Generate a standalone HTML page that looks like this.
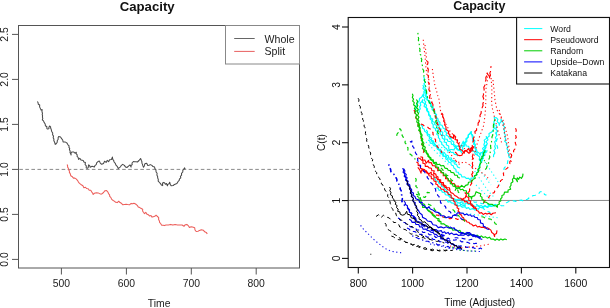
<!DOCTYPE html>
<html><head><meta charset="utf-8"><style>
html,body{margin:0;padding:0;background:#fff;width:610px;height:308px;overflow:hidden}
svg{display:block;filter:blur(0.3px)}
text{font-family:"Liberation Sans", sans-serif}
</style></head><body>
<svg width="610" height="308" viewBox="0 0 610 308">
<rect width="610" height="308" fill="#fff"/>
<rect x="18.5" y="25.5" width="281" height="242.5" fill="none" stroke="#555" stroke-width="1"/>
<line x1="12" y1="259.4" x2="18.5" y2="259.4" stroke="#555" stroke-width="1"/>
<text x="7.8" y="259.4" transform="rotate(-90 7.8 259.4)" text-anchor="middle"  font-size="10.4" fill="#222">0.0</text>
<line x1="12" y1="214.4" x2="18.5" y2="214.4" stroke="#555" stroke-width="1"/>
<text x="7.8" y="214.4" transform="rotate(-90 7.8 214.4)" text-anchor="middle"  font-size="10.4" fill="#222">0.5</text>
<line x1="12" y1="169.4" x2="18.5" y2="169.4" stroke="#555" stroke-width="1"/>
<text x="7.8" y="169.4" transform="rotate(-90 7.8 169.4)" text-anchor="middle"  font-size="10.4" fill="#222">1.0</text>
<line x1="12" y1="124.4" x2="18.5" y2="124.4" stroke="#555" stroke-width="1"/>
<text x="7.8" y="124.4" transform="rotate(-90 7.8 124.4)" text-anchor="middle"  font-size="10.4" fill="#222">1.5</text>
<line x1="12" y1="79.4" x2="18.5" y2="79.4" stroke="#555" stroke-width="1"/>
<text x="7.8" y="79.4" transform="rotate(-90 7.8 79.4)" text-anchor="middle"  font-size="10.4" fill="#222">2.0</text>
<line x1="12" y1="34.4" x2="18.5" y2="34.4" stroke="#555" stroke-width="1"/>
<text x="7.8" y="34.4" transform="rotate(-90 7.8 34.4)" text-anchor="middle"  font-size="10.4" fill="#222">2.5</text>
<line x1="61.4" y1="268" x2="61.4" y2="274.5" stroke="#555" stroke-width="1"/>
<text x="61.4" y="286.8" text-anchor="middle"  font-size="10.4" fill="#222">500</text>
<line x1="126.4" y1="268" x2="126.4" y2="274.5" stroke="#555" stroke-width="1"/>
<text x="126.4" y="286.8" text-anchor="middle"  font-size="10.4" fill="#222">600</text>
<line x1="191.3" y1="268" x2="191.3" y2="274.5" stroke="#555" stroke-width="1"/>
<text x="191.3" y="286.8" text-anchor="middle"  font-size="10.4" fill="#222">700</text>
<line x1="256.2" y1="268" x2="256.2" y2="274.5" stroke="#555" stroke-width="1"/>
<text x="256.2" y="286.8" text-anchor="middle"  font-size="10.4" fill="#222">800</text>
<text x="159.2" y="306.8" text-anchor="middle"  font-size="10.4" fill="#222">Time</text>
<text x="147.2" y="10.8" text-anchor="middle"  font-size="13.2" font-weight="bold" fill="#111">Capacity</text>
<line x1="18.5" y1="169.4" x2="299.5" y2="169.4" stroke="#8a8a8a" stroke-width="1" stroke-dasharray="3.6 2.45" stroke-dashoffset="-0.8"/>
<path d="M37.4,101.5 L38.1,102.7 L38.3,104.2 L39.7,105.0 L39.6,106.9 L40.3,108.4 L41.1,110.1 L42.1,109.5 L42.0,111.9 L42.5,113.2 L42.2,114.5 L42.6,115.8 L42.4,117.1 L42.8,118.4 L42.3,119.9 L43.5,120.9 L44.1,122.4 L45.2,124.0 L45.4,125.7 L46.9,126.7 L46.8,128.2 L47.3,129.0 L48.9,128.8 L48.9,127.2 L49.6,126.0 L50.6,126.8 L50.6,128.1 L51.2,129.3 L51.7,131.5 L52.7,133.0 L52.6,134.8 L53.5,136.1 L53.2,137.7 L53.9,139.1 L53.8,140.6 L54.7,142.4 L55.2,144.4 L56.2,143.7 L57.2,142.3 L57.3,140.5 L58.2,139.3 L58.1,137.7 L58.7,136.6 L60.6,137.0 L61.6,138.7 L62.7,140.0 L63.1,141.9 L64.2,141.9 L65.0,141.9 L66.8,142.9 L68.0,144.8 L69.1,145.8 L68.9,147.2 L69.7,148.4 L69.4,149.8 L70.2,151.0 L70.0,152.4 L70.6,153.6 L71.1,155.0 L71.0,153.1 L71.7,151.9 L73.6,151.9 L75.0,153.1 L76.3,152.2 L76.1,153.7 L77.2,154.8 L77.1,156.3 L78.2,157.5 L78.5,159.4 L79.8,158.3 L81.1,160.1 L83.2,160.6 L83.9,161.9 L85.4,162.6 L85.1,164.5 L86.3,165.9 L86.2,167.9 L87.4,168.3 L88.3,167.3 L88.4,165.9 L88.7,164.8 L89.7,165.8 L90.2,167.2 L92.1,166.3 L94.4,167.0 L94.9,165.6 L96.2,164.6 L96.8,162.7 L98.0,161.6 L99.4,161.1 L100.4,163.4 L101.7,164.3 L103.5,163.5 L104.6,161.2 L106.1,162.4 L107.2,160.4 L108.6,161.7 L109.6,159.7 L111.4,159.5 L112.4,157.1 L112.8,159.4 L113.7,160.5 L114.1,162.0 L115.3,163.4 L116.0,165.2 L117.4,166.6 L118.2,168.6 L119.3,167.6 L120.5,166.9 L121.1,165.6 L122.7,164.4 L124.4,165.4 L125.6,167.1 L126.9,167.5 L128.5,166.1 L130.0,164.9 L131.1,167.1 L131.0,165.7 L132.2,164.6 L132.0,163.0 L133.4,161.5 L134.8,161.7 L136.1,161.8 L137.4,162.0 L139.0,160.5 L140.6,158.5 L141.3,160.3 L141.9,161.7 L141.9,163.1 L142.5,164.4 L142.9,165.9 L143.5,167.3 L144.3,166.0 L144.6,164.5 L145.3,163.4 L146.7,163.3 L147.8,165.5 L149.0,165.3 L150.4,164.6 L151.9,165.4 L153.0,166.6 L154.6,167.0 L154.8,168.5 L155.9,169.7 L156.1,172.0 L157.1,173.3 L156.9,175.0 L157.6,176.4 L157.7,178.0 L158.3,179.4 L158.2,181.1 L159.5,182.5 L160.3,183.4 L161.4,185.0 L162.7,185.6 L162.5,183.8 L163.1,182.4 L164.5,182.7 L165.4,184.3 L166.5,183.5 L167.4,185.8 L167.9,184.4 L169.1,183.6 L169.7,182.2 L170.3,184.7 L171.3,185.8 L173.2,185.5 L174.5,184.4 L176.9,183.6 L178.1,181.5 L179.2,180.4 L179.5,178.9 L180.8,177.8 L180.4,176.3 L181.6,175.2 L181.5,173.4 L182.8,172.0 L182.8,170.4 L183.7,169.2 L184.6,167.9 L185.1,169.3" fill="none" stroke="#4a4a4a" stroke-width="1.05" stroke-linejoin="round"/>
<path d="M67.1,164.5 L67.6,165.7 L67.6,167.1 L68.4,168.3 L68.5,169.7 L69.4,170.9 L69.4,172.4 L70.2,173.6 L70.8,175.8 L72.4,176.8 L73.5,178.1 L74.9,178.1 L76.1,178.9 L77.7,180.6 L78.5,182.3 L80.2,183.9 L81.3,184.8 L82.9,185.8 L83.9,187.7 L85.5,187.2 L86.5,188.5 L88.2,188.8 L89.2,190.2 L90.8,190.2 L91.6,191.9 L92.6,193.0 L93.2,194.5 L94.3,193.3 L96.4,192.7 L98.2,192.9 L100.1,193.9 L101.6,194.1 L103.5,192.5 L105.0,190.7 L106.6,190.5 L108.1,192.3 L108.5,193.7 L109.6,194.8 L109.7,196.3 L110.8,197.4 L111.7,199.4 L113.2,200.5 L114.3,201.1 L115.7,202.3 L117.3,202.6 L118.7,201.2 L119.7,202.3 L121.3,203.2 L122.8,204.8 L124.5,204.4 L126.1,204.2 L127.6,204.5 L129.5,204.8 L131.1,203.4 L132.7,203.8 L133.9,203.3 L135.6,204.0 L137.2,205.3 L138.2,206.9 L139.7,207.6 L140.8,208.2 L142.7,209.2 L142.6,211.0 L143.4,212.2 L144.5,213.6 L145.8,212.3 L146.7,214.0 L148.3,214.7 L149.4,215.9 L151.0,215.6 L152.1,217.1 L153.3,216.7 L154.8,216.3 L156.1,215.2 L156.9,216.0 L158.7,217.6 L158.6,219.4 L159.4,220.9 L159.6,222.4 L160.6,223.5 L161.7,225.3 L163.1,225.3 L164.4,225.6 L166.0,225.0 L166.6,224.9 L168.4,224.9 L170.6,224.4 L172.9,225.1 L175.1,224.6 L177.5,224.9 L179.7,225.0 L182.1,225.0 L184.0,226.3 L185.3,224.7 L186.9,224.4 L188.4,225.8 L189.4,227.5 L191.1,226.8 L192.5,227.1 L194.7,227.8 L195.0,230.0 L196.2,231.5 L198.0,231.2 L199.6,230.4 L201.3,229.7 L203.3,230.2 L204.7,231.8 L206.2,232.4 L207.3,233.9" fill="none" stroke="#EC5E5A" stroke-width="1.05" stroke-linejoin="round"/>
<rect x="225.5" y="25.5" width="74" height="38.5" fill="#fff" stroke="#888" stroke-width="1"/>
<line x1="234.2" y1="38.5" x2="254.7" y2="38.5" stroke="#666" stroke-width="1"/>
<line x1="234.2" y1="51.4" x2="254.7" y2="51.4" stroke="#E86060" stroke-width="1"/>
<text x="264.5" y="43"  font-size="10.6" fill="#222">Whole</text>
<text x="264.5" y="55.3"  font-size="10.6" fill="#222">Split</text>
<line x1="348.2" y1="200.45" x2="609.5" y2="200.45" stroke="#888" stroke-width="1"/>
<path d="M496.0,124.6 L496.6,126.7 L495.7,129.0 L497.6,131.2 L496.1,133.2 L496.9,135.5 L495.4,137.5 L496.4,139.9 L494.6,141.8 L495.5,144.1 L494.7,146.2 L495.5,148.5 L493.9,150.5 L494.9,152.9 L493.6,154.9 L493.5,157.1" fill="none" stroke="#00FFFF" stroke-width="1.15" stroke-linejoin="round"/>
<path d="M486.2,136.0 L486.6,138.4 L484.2,140.1 L484.8,142.5 L483.9,144.5 L484.7,146.7 L482.6,148.4 L483.7,150.8 L482.0,152.7 L482.6,155.1 L481.4,157.1" fill="none" stroke="#00FFFF" stroke-width="1.15" stroke-linejoin="round"/>
<path d="M470.0,165.0 L474.0,170.0 L478.0,176.0 L482.0,182.0 L486.0,188.0 L490.0,193.0 L494.0,197.0" fill="none" stroke="#00FFFF" stroke-width="1.1" stroke-dasharray="1.2 2.6" stroke-opacity="0.95" stroke-linejoin="round"/>
<path d="M485.0,162.0 L489.0,168.0 L493.0,174.0 L497.0,180.0 L500.0,186.0" fill="none" stroke="#00FFFF" stroke-width="1.1" stroke-dasharray="1.2 2.6" stroke-opacity="0.95" stroke-linejoin="round"/>
<path d="M476.0,185.0 L481.0,190.0 L486.0,195.0 L490.0,199.0" fill="none" stroke="#00FFFF" stroke-width="1.1" stroke-dasharray="1.2 2.6" stroke-opacity="0.95" stroke-linejoin="round"/>
<path d="M445.0,200.0 L447.0,199.9 L448.0,202.1 L450.2,201.5 L451.5,203.0 L453.4,203.1 L454.7,204.7 L456.9,204.1 L458.0,206.1 L460.1,205.5 L462.3,207.3 L465.2,206.6 L466.4,208.4 L468.6,207.6 L469.9,209.5 L472.6,208.6 L475.2,210.2 L476.6,208.7 L478.5,209.1 L479.8,207.2 L482.6,207.9 L484.9,206.2 L487.6,207.5 L489.7,205.7 L491.8,206.4 L493.3,205.2 L495.0,205.0" fill="none" stroke="#00FFFF" stroke-width="1.15" stroke-linejoin="round"/>
<path d="M455.0,212.0 L462.0,213.0 L470.0,214.0 L478.0,215.0 L485.0,216.0 L492.0,217.0 L500.0,218.0" fill="none" stroke="#00FFFF" stroke-width="1.1" stroke-dasharray="1.2 2.6" stroke-opacity="0.95" stroke-linejoin="round"/>
<path d="M462.0,206.0 L463.9,205.3 L466.1,205.6 L468.0,204.3 L469.9,204.5 L472.0,204.1 L474.0,204.7 L476.1,204.2 L477.9,205.2 L479.8,205.6 L481.0,207.3 L483.0,207.7 L484.2,209.3 L486.1,209.8 L487.2,211.4 L489.1,211.9 L490.4,213.2 L492.0,214.0" fill="none" stroke="#00FFFF" stroke-width="1.15" stroke-dasharray="3.9 3.4" stroke-linejoin="round"/>
<path d="M426.0,142.0 L430.0,146.0 L434.0,150.0 L438.0,154.0 L442.0,158.0 L446.0,162.0 L450.0,166.0" fill="none" stroke="#00FFFF" stroke-width="1.1" stroke-dasharray="1.2 2.6" stroke-opacity="0.95" stroke-linejoin="round"/>
<path d="M428.0,140.0 L429.8,140.9 L430.3,143.1 L432.4,143.5 L433.8,145.8 L436.5,146.3 L437.5,149.2 L440.4,149.4 L441.8,151.8 L444.4,152.5 L445.7,154.9 L448.3,155.7 L448.7,158.0 L451.4,158.0 L451.9,160.2 L454.5,160.8 L456.0,163.0" fill="none" stroke="#00FFFF" stroke-width="1.15" stroke-linejoin="round"/>
<path d="M432.0,141.0 L437.0,143.0 L441.0,147.0 L445.0,150.0 L449.0,153.0" fill="none" stroke="#00FFFF" stroke-width="1.1" stroke-dasharray="1.2 2.6" stroke-opacity="0.95" stroke-linejoin="round"/>
<path d="M415.0,111.0 L414.9,109.2 L416.7,108.0 L415.8,105.9 L417.3,104.6 L417.8,102.5 L419.3,100.8 L419.5,98.5 L421.5,97.2 L423.5,93.8 L423.4,96.9 L425.2,98.3 L424.3,100.3 L425.7,101.8 L425.3,103.8 L426.6,105.3 L425.8,107.4 L427.6,109.0 L427.2,111.3 L428.9,112.9 L428.6,115.1 L430.4,116.7 L430.1,119.0 L432.1,120.5 L431.7,122.8 L433.2,124.7 L433.2,127.4 L435.4,128.5 L435.6,130.6 L437.6,131.8 L436.7,134.3 L438.5,135.6 L438.4,137.7 L439.8,139.1 L439.8,141.2 L441.7,142.3 L441.8,144.5 L443.5,145.4 L444.5,147.5 L446.5,148.4 L447.6,150.7 L449.9,150.6 L451.1,152.5 L453.3,152.4 L454.4,154.5 L456.6,154.6 L458.0,156.0" fill="none" stroke="#00FFFF" stroke-width="1.15" stroke-linejoin="round"/>
<path d="M422.8,85.0 L423.6,86.6 L422.9,88.6 L424.8,90.0 L423.7,92.1 L425.3,93.6 L425.1,95.6 L426.6,97.2 L427.0,99.5 L429.9,101.4 L430.9,104.6 L433.1,106.8 L433.2,109.2 L434.9,110.9 L434.6,113.1 L436.6,114.5 L436.1,117.2 L437.9,118.7 L438.3,120.9 L440.0,122.5 L439.8,124.8 L442.0,125.3 L443.3,128.3 L445.5,129.3 L444.7,131.5 L446.9,132.5 L446.0,135.0 L448.3,136.2 L449.9,139.0 L451.1,136.8 L451.2,140.1 L453.8,142.0 L453.6,144.3 L455.4,145.5 L455.4,147.9 L457.4,148.5 L458.2,150.3 L460.3,150.8 L461.8,153.0 L460.7,150.6 L463.0,149.5 L462.3,147.2 L464.6,145.9 L464.6,143.5 L466.9,141.3 L466.7,138.8 L468.4,137.2 L468.4,135.0 L469.8,133.6 L471.1,131.7 L471.5,134.7 L473.3,136.2 L472.8,138.6 L474.9,141.0 L474.3,143.0 L475.5,144.9 L474.9,146.9 L475.9,148.8 L475.4,151.0 L477.0,152.6 L477.1,155.0 L479.9,157.0 L479.2,159.4 L479.8,160.7 L482.5,160.2 L482.0,157.9 L483.2,156.1 L483.4,153.2 L485.5,151.7 L484.5,149.3 L486.0,147.6 L485.7,145.5 L487.4,143.8 L486.0,141.6 L488.0,139.9 L487.2,137.6 L489.2,136.2 L489.0,133.6 L491.8,131.9 L493.0,130.0 L494.5,128.1 L493.0,126.0 L494.6,124.2 L493.7,122.1 L494.9,120.2 L494.2,117.6 L496.3,117.7 L497.9,119.3 L497.1,121.6 L498.9,123.2 L499.3,125.5 L499.6,123.3 L501.1,121.6 L501.0,119.3 L502.4,121.5 L503.5,123.3 L503.1,125.4 L504.7,127.2 L503.6,129.3 L504.7,131.1 L504.2,133.2 L505.4,135.0 L504.9,137.1 L505.7,139.0 L504.7,141.3 L506.5,142.9 L506.3,145.0 L507.6,146.7 L507.0,148.8 L508.3,150.6 L507.7,152.7 L509.0,154.3 L508.8,156.8 L510.6,158.4" fill="none" stroke="#00FFFF" stroke-width="1.15" stroke-linejoin="round"/>
<path d="M423.6,76.7 L424.4,78.3 L423.8,80.1 L425.5,81.9 L423.9,83.9 L425.4,85.8 L424.8,87.8 L426.1,89.5 L425.1,91.8 L426.7,93.5 L426.0,95.8 L427.7,97.4 L427.0,99.9 L428.8,101.0 L429.0,102.9 L431.0,103.9 L430.5,106.2 L432.2,107.4 L432.1,109.8 L434.5,110.8 L434.7,113.1 L436.1,114.8 L435.3,117.1 L436.9,118.8 L436.4,121.0 L437.9,122.7 L437.8,124.6 L439.1,126.0 L439.2,127.8 L441.1,128.9 L440.6,131.3 L442.8,132.3 L442.3,134.8 L444.7,136.1 L444.8,139.0 L447.2,139.2 L447.9,141.3 L451.1,141.8 L451.4,144.1 L453.4,144.7 L454.3,146.4 L456.4,146.9 L456.7,149.2 L458.1,149.9 L460.2,148.4 L460.9,145.6 L463.5,146.1 L464.2,142.7 L466.0,141.2 L465.9,138.7 L467.9,137.3 L468.2,135.0 L469.8,133.7 L471.3,131.7 L471.0,133.7 L472.5,135.0 L472.1,137.0 L473.3,138.5 L472.5,140.6 L474.2,142.0 L473.5,144.0 L475.1,145.4 L474.7,148.0 L476.5,149.6 L477.1,151.8 L479.1,153.0 L480.3,155.2 L480.6,152.8 L483.4,152.3 L483.8,149.9 L485.3,148.5 L485.3,146.3 L487.0,145.0" fill="none" stroke="#00FFFF" stroke-width="1.15" stroke-linejoin="round"/>
<path d="M419.6,112.5 L418.9,110.5 L420.3,108.8 L419.5,106.8 L420.8,105.1 L420.1,103.0 L421.7,101.7 L422.8,99.6 L422.3,102.3 L424.8,103.6 L424.1,106.4 L426.4,107.8 L426.6,110.2 L428.7,111.7 L428.6,114.2 L430.4,115.8 L430.7,117.9 L432.8,118.9 L432.2,121.5 L434.7,122.2 L434.7,124.5 L436.8,125.5 L436.4,128.0 L438.3,129.1 L438.4,131.3 L440.2,132.4 L440.4,134.5 L442.0,135.6 L442.4,138.3 L444.7,139.7 L444.1,142.0 L446.5,142.6 L446.3,144.8 L448.7,146.0 L448.8,149.3 L451.7,149.5 L454.0,149.9 L454.8,148.1 L456.8,145.9 L458.6,146.7 L461.6,144.9 L463.3,141.2 L463.6,143.5 L465.7,144.0 L466.3,146.0 L468.6,146.3 L469.1,148.4 L470.8,149.3 L472.2,150.9 L474.3,151.5 L475.5,154.2 L478.0,155.0" fill="none" stroke="#00FFFF" stroke-width="1.15" stroke-linejoin="round"/>
<path d="M421.0,125.0 L422.4,126.2 L422.5,128.3 L424.4,129.2 L424.6,131.3 L426.9,132.7 L427.4,135.4 L429.3,136.5 L429.4,138.7 L431.2,139.9 L432.0,141.9 L434.0,143.0 L434.7,145.2 L437.1,146.5 L437.6,149.3 L440.2,150.5 L440.3,153.7 L442.6,154.0 L443.0,156.3 L445.6,156.5 L445.8,159.0 L447.8,160.0 L448.6,162.1 L450.8,162.7 L451.3,164.9 L453.3,165.8 L453.9,168.1 L455.9,169.4 L456.2,172.0 L458.4,172.3 L458.9,174.2 L460.9,174.4 L462.0,177.0 L464.7,176.9 L466.2,178.4 L468.6,178.2 L470.6,180.7 L471.0,178.1 L473.4,178.0 L474.3,176.0 L476.3,175.1 L476.3,173.2 L477.9,171.9 L477.8,169.9 L479.4,168.6 L478.6,166.4 L480.2,165.1 L479.9,163.0 L481.9,161.9 L481.2,159.6 L483.4,158.6 L482.9,156.3 L485.0,155.3 L484.7,153.0 L486.7,151.9 L487.0,150.0" fill="none" stroke="#00FFFF" stroke-width="1.15" stroke-linejoin="round"/>
<path d="M426.0,130.0 L427.5,131.4 L427.3,133.9 L429.8,134.8 L429.6,137.2 L431.7,138.0 L431.4,140.4 L433.6,141.1 L433.8,143.2 L435.4,144.4 L436.0,146.3 L438.3,147.1 L438.6,149.7 L440.6,151.0 L441.2,152.9 L443.3,153.2 L443.4,155.8 L446.3,156.1 L447.4,158.8 L450.1,159.3 L451.4,161.6 L454.0,161.7 L454.4,163.9 L456.5,164.4 L457.6,167.0 L460.0,168.0" fill="none" stroke="#00FFFF" stroke-width="1.15" stroke-linejoin="round"/>
<path d="M433.4,177.3 L435.1,178.5 L435.8,180.7 L438.1,181.3 L438.9,183.4 L441.1,184.2 L441.7,186.5 L444.0,187.1 L444.6,189.3 L446.4,190.2 L446.7,192.1 L448.7,192.9 L448.7,195.1 L451.0,195.8 L451.3,198.3 L454.0,198.6 L454.3,201.5 L456.5,201.3 L457.5,202.9 L459.7,202.9 L460.9,205.1 L462.7,203.6 L465.1,204.2 L467.3,202.2 L468.3,204.4 L470.3,203.9 L471.6,205.2 L473.5,205.2 L475.0,207.0 L477.0,205.6 L479.0,206.8 L481.0,205.4 L483.0,206.7 L485.0,205.4 L487.0,206.9 L489.0,205.3 L491.0,206.4 L493.0,205.7 L495.0,206.0" fill="none" stroke="#00FFFF" stroke-width="1.15" stroke-linejoin="round"/>
<path d="M436.3,187.9 L438.2,188.1 L439.0,190.4 L441.4,190.0 L442.3,192.2 L444.6,192.4 L445.4,194.8 L448.3,195.2 L449.8,197.3 L451.9,197.5 L453.1,199.2 L455.0,199.2 L456.8,199.9 L458.5,199.1 L460.3,199.6 L462.0,199.0" fill="none" stroke="#00FFFF" stroke-width="1.15" stroke-linejoin="round"/>
<path d="M496.0,125.0 L496.7,127.0 L495.8,129.0 L496.8,131.0 L495.8,133.0 L496.7,135.0 L496.2,137.0 L497.3,139.0 L496.3,141.0 L497.3,143.0 L496.8,145.0 L497.6,147.5 L497.5,150.0" fill="none" stroke="#00FFFF" stroke-width="1.15" stroke-dasharray="3.9 3.4" stroke-linejoin="round"/>
<path d="M460.0,202.6 L461.9,201.9 L464.0,202.1 L465.7,200.8 L467.7,201.0 L469.6,200.8 L471.2,201.8 L473.1,201.2 L474.7,202.4 L476.6,202.0 L478.2,202.9 L480.0,202.9 L481.9,203.7 L484.1,203.4 L486.0,204.4 L488.1,204.1 L490.0,205.2 L491.8,204.8 L493.6,205.1 L495.4,204.4 L497.2,205.5 L499.1,204.5 L501.4,205.8 L503.8,205.7 L505.4,204.7 L506.2,202.9 L507.8,202.1 L509.6,200.8 L511.7,201.2 L513.6,200.7 L515.7,201.4 L517.5,200.2 L519.4,200.4 L521.5,200.1 L523.6,201.2 L525.2,199.7 L527.5,199.3 L529.2,197.8 L531.3,197.1 L532.9,195.6 L535.2,195.3 L536.8,193.7 L539.1,193.3 L540.1,191.7 L541.5,191.6 L543.7,192.3 L544.5,194.5 L546.4,195.1" fill="none" stroke="#00FFFF" stroke-width="1.15" stroke-dasharray="3.9 3.4" stroke-linejoin="round"/>
<path d="M504.0,170.0 L504.1,168.1 L505.5,166.7 L505.9,164.9 L507.5,163.3 L507.8,160.9 L509.2,159.1 L510.0,157.0" fill="none" stroke="#00FFFF" stroke-width="1.15" stroke-dasharray="3.9 3.4" stroke-linejoin="round"/>
<path d="M479.5,169.5 L482.0,173.0 L485.0,177.0 L488.0,181.0 L491.0,185.0" fill="none" stroke="#00FFFF" stroke-width="1.1" stroke-dasharray="1.2 2.6" stroke-opacity="0.95" stroke-linejoin="round"/>
<path d="M499.2,110.0 L500.8,116.5 L502.5,123.0 L504.1,129.5 L504.9,136.0 L506.5,142.5 L508.1,149.0 L509.0,155.5" fill="none" stroke="#FF0000" stroke-width="1.1" stroke-dasharray="1.2 2.6" stroke-opacity="0.95" stroke-linejoin="round"/>
<path d="M464.7,192.5 L466.3,194.0 L466.2,196.4 L468.8,197.6 L468.7,200.2 L470.7,201.0 L470.4,203.4 L472.2,204.4 L472.4,206.7 L474.8,207.0 L476.0,208.7" fill="none" stroke="#FF0000" stroke-width="1.15" stroke-linejoin="round"/>
<path d="M423.3,39.7 L424.0,48.0 L425.0,56.0 L425.5,62.0 L426.0,68.0 L427.0,75.0" fill="none" stroke="#FF0000" stroke-width="1.1" stroke-dasharray="1.2 2.6" stroke-opacity="0.95" stroke-linejoin="round"/>
<path d="M425.0,45.0 L426.0,52.0 L426.5,60.0 L427.5,67.0 L428.5,74.8 L429.1,86.5 L430.5,95.0 L432.0,102.0 L434.0,110.0 L436.0,118.0 L438.0,125.0 L440.0,131.0" fill="none" stroke="#FF0000" stroke-width="1.1" stroke-dasharray="1.2 2.6" stroke-opacity="0.95" stroke-linejoin="round"/>
<path d="M432.4,69.0 L433.4,76.7 L435.0,86.0 L436.4,90.2 L437.7,95.4 L439.0,99.3 L439.7,104.5 L440.3,109.7 L441.6,114.9 L442.9,116.2 L444.0,119.0 L446.4,125.5 L450.0,131.0 L454.0,136.0 L458.0,141.0 L462.0,146.0 L466.0,150.0" fill="none" stroke="#FF0000" stroke-width="1.1" stroke-dasharray="1.2 2.6" stroke-opacity="0.95" stroke-linejoin="round"/>
<path d="M427.5,61.0 L428.0,62.7 L427.5,64.5 L428.4,66.2 L427.7,68.0 L428.4,69.7 L427.9,71.5 L428.5,73.2 L427.7,75.0 L428.5,76.7 L428.1,78.5 L428.7,80.2 L428.2,82.0 L429.3,83.8 L428.5,85.8 L429.4,87.7 L428.8,89.6 L429.8,91.5 L429.2,93.7 L429.9,95.8 L429.6,98.1 L430.8,100.4 L431.4,102.0 L432.9,104.4 L433.2,107.7 L434.3,109.4 L434.1,111.5 L435.2,113.3 L435.1,115.4 L436.1,117.2 L435.9,119.6 L437.3,121.5 L437.1,124.0 L438.8,125.7 L438.8,128.1 L440.4,129.9 L440.4,132.1 L441.7,133.9 L442.0,136.0" fill="none" stroke="#FF0000" stroke-width="1.15" stroke-dasharray="3.9 3.4" stroke-linejoin="round"/>
<path d="M441.5,113.0 L442.8,114.5 L442.6,116.6 L444.1,119.2 L443.6,121.2 L445.0,122.9 L444.6,124.9 L445.9,126.5 L446.1,129.6 L448.9,131.5 L448.1,133.7 L449.8,134.2 L449.8,136.4 L452.1,137.4 L453.4,138.5 L453.5,136.3 L453.6,134.7 L455.7,136.9 L455.0,139.5 L457.6,140.2 L457.0,142.6 L458.9,143.7 L458.8,145.6 L459.9,147.1 L459.6,149.3 L462.1,150.2 L464.2,153.3 L464.4,150.9 L466.6,150.7 L468.7,148.5 L470.1,152.0 L471.2,148.6 L473.1,147.9 L474.0,146.2" fill="none" stroke="#FF0000" stroke-width="1.15" stroke-linejoin="round"/>
<path d="M455.0,152.0 L456.5,153.2 L457.5,155.0 L459.8,155.6 L462.0,155.2 L462.6,153.2 L464.3,152.3 L465.5,150.4 L467.3,151.8 L469.0,153.3 L471.4,151.1 L470.6,148.6 L471.9,146.9" fill="none" stroke="#FF0000" stroke-width="1.15" stroke-linejoin="round"/>
<path d="M417.8,157.8 L419.9,158.5 L421.4,159.9 L423.0,160.9 L422.9,163.2 L425.1,163.8 L425.3,166.3 L427.7,166.3 L429.1,167.9 L431.4,168.2 L431.7,170.5 L434.2,170.9 L433.6,173.4 L435.8,174.1 L436.2,175.9 L438.0,176.9 L438.0,178.9 L439.4,180.1 L439.6,182.1 L441.8,182.5 L441.9,185.0 L444.5,185.0 L444.8,187.3 L446.6,188.1 L447.5,189.8 L449.6,190.1 L450.8,192.6 L453.1,193.5 L454.7,195.5 L456.9,196.6 L458.6,198.0 L460.9,198.3 L462.1,199.8 L464.0,199.9 L464.9,201.9 L467.0,201.5 L467.9,203.3 L470.5,203.2 L471.2,205.5 L473.5,205.8 L473.7,208.2 L476.1,208.4 L476.6,210.5 L478.5,211.2 L479.4,213.2 L481.5,212.6 L483.2,214.4 L485.3,213.3 L487.2,214.1 L489.2,213.2 L491.2,214.7 L492.9,213.3 L496.0,212.8" fill="none" stroke="#FF0000" stroke-width="1.15" stroke-linejoin="round"/>
<path d="M416.4,162.0 L418.1,163.1 L418.2,165.4 L420.5,166.0 L420.4,168.2 L422.0,168.9 L423.3,171.3 L426.3,170.7 L426.7,172.9 L428.7,173.5 L429.0,175.8 L431.2,176.2 L431.4,178.6 L433.9,178.9 L433.9,181.0 L436.1,181.6 L435.7,184.0 L437.6,184.8 L438.3,186.7 L440.3,187.3 L441.1,189.2 L443.5,189.3 L444.6,191.5 L447.4,191.9 L448.3,194.3 L451.1,195.0 L451.1,197.7 L453.6,198.6 L453.6,200.9 L455.1,202.4 L455.0,204.7 L457.2,205.8 L457.1,207.7 L458.9,208.9 L458.0,211.1 L459.6,212.3 L459.7,214.3 L461.5,215.1 L462.0,216.9 L463.6,217.8 L464.2,219.7 L466.0,220.2 L467.0,222.0 L468.9,222.3 L470.1,223.8 L471.8,224.3 L473.4,226.0 L475.8,225.0 L477.4,227.0 L479.5,226.4 L481.4,227.4 L483.5,227.1 L485.3,228.2 L487.3,227.8 L488.9,228.7 L490.9,230.1 L491.8,232.5 L493.7,233.9 L494.6,236.5 L494.6,234.4 L496.5,233.4 L497.0,230.3" fill="none" stroke="#FF0000" stroke-width="1.15" stroke-linejoin="round"/>
<path d="M414.0,110.0 L415.0,112.2 L414.8,114.6 L416.3,116.1 L415.8,118.1 L417.4,119.5 L417.2,121.5 L418.5,123.0 L418.0,124.9 L419.0,126.4 L418.9,128.2 L419.9,129.8 L419.9,131.7 L420.8,133.2 L420.6,135.1 L421.7,136.6 L421.0,138.5 L421.9,140.1 L421.9,141.8 L422.5,143.5 L422.2,145.3 L423.4,146.8 L422.7,148.7 L424.0,150.7 L423.3,152.9 L424.0,155.0" fill="none" stroke="#FF0000" stroke-width="1.15" stroke-dasharray="3.9 3.4" stroke-linejoin="round"/>
<path d="M430.0,212.0 L431.8,212.3 L433.2,213.8 L435.2,213.6 L436.5,215.2 L438.4,215.1 L439.9,216.6 L441.8,216.0 L443.2,217.3 L445.1,216.8 L446.5,218.2 L448.4,217.8 L450.0,218.8 L452.0,218.2 L453.8,219.2 L455.8,218.5 L457.6,219.5 L459.6,218.8 L461.5,219.6 L463.3,219.7 L464.6,221.0 L466.4,221.3 L468.0,222.0" fill="none" stroke="#FF0000" stroke-width="1.15" stroke-dasharray="3.9 3.4" stroke-linejoin="round"/>
<path d="M462.0,200.0 L463.3,198.5 L465.3,197.8 L466.0,195.7 L468.3,195.0 L468.0,192.7 L469.6,191.1 L469.6,189.0 L470.6,187.2 L470.5,185.0 L471.7,183.3 L471.4,181.2 L472.2,179.5 L471.6,177.8 L472.5,176.1 L471.7,174.4 L473.0,172.7 L472.2,171.0 L473.0,169.2 L472.0,167.3 L472.8,165.5 L472.3,163.7 L472.9,161.8 L472.0,160.0 L472.9,158.2 L472.3,156.4 L473.0,154.6 L472.2,152.8 L473.0,151.0 L472.3,149.2 L472.9,147.4 L472.2,145.6 L473.3,143.9 L472.8,142.1 L473.7,140.5 L473.2,138.6 L474.2,137.0 L474.0,135.1 L475.1,133.6 L474.9,131.5 L476.6,130.2 L476.5,126.8 L478.1,125.2 L478.1,123.1 L479.4,121.3 L479.1,119.1 L480.3,117.4 L479.9,115.2 L481.1,113.4 L481.2,111.4 L482.1,109.6 L482.2,107.5 L483.1,105.6 L482.8,103.9 L483.4,102.2 L482.6,100.4 L483.7,98.7 L482.9,96.5 L483.6,94.4 L483.1,92.2 L484.2,89.8 L483.8,87.2 L485.0,84.9 L485.0,82.4 L486.0,80.1 L485.8,77.5 L486.9,75.2 L487.2,72.6 L487.7,74.4 L489.2,75.9 L489.9,79.2 L489.5,77.2 L490.5,75.2 L489.8,73.1 L490.6,71.1 L490.6,68.6 L491.1,66.2" fill="none" stroke="#FF0000" stroke-width="1.15" stroke-dasharray="6.5 3" stroke-linejoin="round"/>
<path d="M487.0,72.7 L487.5,80.0 L485.8,90.0 L485.8,101.7 L485.2,113.4 L483.8,125.0 L481.0,132.9 L478.0,140.7 L476.0,148.4 L474.0,156.0 L472.0,165.0" fill="none" stroke="#FF0000" stroke-width="1.1" stroke-dasharray="1.2 2.6" stroke-opacity="0.95" stroke-linejoin="round"/>
<path d="M491.1,78.0 L491.9,89.0 L491.6,103.6 L492.6,109.5 L494.5,117.3 L496.5,125.0 L498.4,132.9 L500.8,139.0 L502.0,145.0" fill="none" stroke="#FF0000" stroke-width="1.1" stroke-dasharray="1.2 2.6" stroke-opacity="0.95" stroke-linejoin="round"/>
<path d="M493.0,80.0 L495.0,100.0 L497.0,110.0 L502.8,119.5 L505.7,129.2 L507.7,137.0 L508.6,144.8 L509.6,150.7 L511.0,158.0 L511.2,162.3" fill="none" stroke="#FF0000" stroke-width="1.1" stroke-dasharray="1.2 2.6" stroke-opacity="0.95" stroke-linejoin="round"/>
<path d="M515.5,128.2 L516.3,130.1 L515.9,132.0 L516.3,133.8 L515.7,135.5 L516.3,137.4 L515.1,139.0 L515.7,140.9 L515.2,142.9 L516.0,144.9 L515.2,146.7 L515.0,148.8 L513.6,150.5 L513.6,152.8 L511.2,153.5 L511.7,155.7 L510.7,157.6 L511.3,159.9 L509.8,161.6 L509.8,163.8 L508.6,165.5 L507.7,167.9 L505.6,169.4 L505.1,171.6 L503.3,173.2 L503.7,175.5 L502.4,177.2 L502.4,179.4 L500.5,180.9 L500.2,183.3 L498.6,184.8 L498.2,186.7 L496.9,187.9 L496.2,189.6 L494.9,190.7 L494.2,192.6 L492.3,193.3 L491.6,195.2 L489.5,195.7 L488.8,197.6 L487.1,198.5 L486.1,200.1 L484.4,201.1 L483.6,203.0 L482.0,204.0" fill="none" stroke="#FF0000" stroke-width="1.15" stroke-dasharray="3.9 3.4" stroke-linejoin="round"/>
<path d="M449.0,152.0 L452.0,156.0 L455.0,160.0 L458.0,163.0 L460.7,165.6" fill="none" stroke="#FF0000" stroke-width="1.1" stroke-dasharray="1.2 2.6" stroke-opacity="0.95" stroke-linejoin="round"/>
<path d="M455.0,160.0 L460.0,163.0 L465.0,162.0 L470.0,165.0 L478.0,170.0 L485.0,175.0 L490.0,180.0" fill="none" stroke="#FF0000" stroke-width="1.1" stroke-dasharray="1.2 2.6" stroke-opacity="0.95" stroke-linejoin="round"/>
<path d="M421.0,124.0 L423.1,124.9 L424.8,126.4 L427.1,126.8 L428.8,128.2 L430.8,129.2 L431.5,131.2 L433.0,132.5 L433.0,134.5 L434.1,136.0 L434.4,138.1 L435.6,139.9 L435.5,142.2 L437.0,143.9 L436.9,146.2 L438.3,147.8 L439.2,149.8 L441.1,151.0 L442.0,153.0" fill="none" stroke="#FF0000" stroke-width="1.15" stroke-dasharray="3.9 3.4" stroke-linejoin="round"/>
<path d="M450.0,246.0 L460.0,248.0 L470.0,247.0 L480.0,246.0 L490.0,244.0" fill="none" stroke="#FF0000" stroke-width="1.1" stroke-dasharray="1.2 2.6" stroke-opacity="0.95" stroke-linejoin="round"/>
<path d="M417.8,167.3 L419.6,169.6 L421.0,173.1 L421.4,171.0 L422.5,169.1 L424.6,169.6 L425.4,171.4 L427.3,172.1 L428.4,174.2 L431.2,172.1 L431.3,174.6 L433.6,174.9 L434.0,177.1 L436.2,177.3 L437.7,179.7 L440.7,179.8 L440.6,182.4 L443.4,182.6 L443.4,185.9 L445.7,185.7 L446.5,187.5 L449.3,187.7 L450.0,190.0" fill="none" stroke="#FF0000" stroke-width="1.15" stroke-linejoin="round"/>
<path d="M420.4,156.9 L422.6,157.3 L422.5,160.0 L425.0,160.1 L426.2,163.2 L428.6,160.4 L428.9,162.7 L431.2,162.6 L432.5,165.6 L434.9,165.8 L435.7,167.6 L437.8,168.1 L437.7,170.8 L440.8,170.3 L440.9,172.8 L443.4,172.9 L443.2,175.7 L446.1,175.4 L445.5,178.7 L448.0,178.6 L448.0,181.0 L451.1,180.9 L451.7,183.4 L454.5,183.9 L455.8,186.3 L458.5,186.0 L460.0,188.0" fill="none" stroke="#FF0000" stroke-width="1.15" stroke-linejoin="round"/>
<path d="M396.7,135.8 L397.0,134.1 L398.2,132.7 L398.2,130.8 L399.9,128.7 L401.1,130.2 L401.0,132.1 L402.0,133.6 L402.1,135.4 L403.1,136.9 L403.8,139.1 L405.2,140.9 L405.0,142.9 L406.4,144.3 L406.3,146.3 L408.0,147.8 L407.9,150.1 L409.3,152.3 L410.1,154.2 L411.8,155.3 L412.5,157.1 L414.4,157.8 L415.2,159.5" fill="none" stroke="#00CD00" stroke-width="1.15" stroke-dasharray="3.9 3.4" stroke-linejoin="round"/>
<path d="M415.5,178.0 L416.2,179.6 L415.9,181.4 L416.6,183.8 L415.8,186.3 L417.2,187.7 L417.0,189.5 L418.2,190.9 L418.1,192.8 L419.4,194.2 L418.9,196.2 L420.4,197.5 L420.6,199.4 L422.0,200.7 L422.7,203.0 L424.7,204.6 L425.3,207.1 L426.9,208.8 L428.2,210.7 L430.0,212.1 L431.2,214.1 L433.2,215.4 L434.6,217.2 L436.7,218.4 L438.0,220.5 L440.0,222.0" fill="none" stroke="#00CD00" stroke-width="1.15" stroke-dasharray="3.9 3.4" stroke-linejoin="round"/>
<path d="M417.8,32.9 L418.2,34.7 L418.0,36.6 L418.7,38.4 L418.3,40.3 L419.3,42.0 L419.1,43.9 L419.6,45.7 L419.2,47.6 L420.1,49.2 L419.7,51.0 L420.9,52.5 L420.3,54.4 L421.5,55.9 L420.8,57.8 L421.8,59.3 L421.4,61.2 L422.3,63.0 L422.2,65.1 L423.0,66.9 L422.7,69.0 L423.8,70.8 L423.4,72.9 L424.3,74.7 L423.7,76.8 L425.0,78.6 L424.4,80.7 L425.5,82.5 L424.8,84.6 L425.8,86.5 L425.6,89.1 L426.6,91.5 L426.6,93.5 L427.6,95.3 L427.4,97.4 L428.3,99.1 L429.1,102.0 L430.4,103.9 L430.8,106.2 L433.6,108.3 L433.2,110.2 L434.4,111.8 L434.2,113.7 L435.5,115.6 L434.9,118.0 L436.2,119.9 L435.7,121.8 L436.5,123.5 L436.3,125.2 L436.9,126.9 L436.4,128.8 L437.9,130.4 L437.6,132.4 L438.6,134.1 L438.5,136.0" fill="none" stroke="#00CD00" stroke-width="1.15" stroke-dasharray="1.4 2.8 4.4 2.8" stroke-linejoin="round"/>
<path d="M441.0,168.0 L442.7,169.6 L443.5,171.7 L445.4,173.1 L446.2,174.9 L447.9,175.8 L448.6,177.7 L450.4,178.5 L451.4,180.1 L453.3,181.0 L453.5,182.8 L454.6,184.2 L454.8,186.1 L456.5,187.2 L456.6,189.2 L457.9,190.3 L458.3,192.2 L460.0,193.2 L460.7,194.8" fill="none" stroke="#00CD00" stroke-width="1.15" stroke-dasharray="3.9 3.4" stroke-linejoin="round"/>
<path d="M412.3,93.8 L413.0,95.5 L412.3,97.5 L413.6,99.1 L412.7,101.1 L414.3,102.6 L413.6,104.8 L415.5,106.5 L414.4,108.7 L416.2,110.4 L414.8,112.6 L416.6,114.8 L415.7,117.4 L417.4,119.4 L416.7,121.8 L418.4,123.7 L417.7,126.2 L419.8,127.7 L418.7,130.4 L420.5,131.4 L420.8,133.2 L422.2,135.0 L421.2,137.3 L422.8,139.1 L422.2,141.4 L423.9,143.2 L423.2,145.7 L425.3,147.3 L424.6,149.7 L426.4,150.8 L426.2,153.0 L428.2,154.0 L427.8,156.3 L429.8,157.1 L430.3,159.8 L433.2,159.9 L433.7,162.6 L436.2,162.3 L437.1,164.7 L439.4,164.2 L441.0,165.9 L443.6,165.5 L444.9,168.1 L447.3,168.6 L448.2,170.3 L450.3,170.6 L451.1,172.4 L453.7,172.8 L454.9,175.2 L457.1,175.2 L458.0,177.5 L460.0,178.0" fill="none" stroke="#00CD00" stroke-width="1.15" stroke-linejoin="round"/>
<path d="M416.4,99.5 L417.6,101.4 L416.6,103.6 L417.8,105.5 L416.6,107.6 L418.3,109.5 L417.0,111.5 L418.6,113.3 L417.5,115.4 L419.0,117.1 L417.8,119.2 L418.9,120.9 L418.4,122.8 L419.8,124.4 L419.2,126.4 L420.2,128.1 L419.8,130.0 L420.5,131.7 L420.2,133.5 L421.2,135.1 L420.7,136.9 L422.2,138.4 L421.2,140.4 L422.9,141.8 L421.5,144.2 L423.7,145.8 L422.3,148.2 L424.1,149.5 L424.4,151.8 L426.8,152.0 L427.0,154.3 L428.7,155.2 L428.9,157.1 L430.9,157.9 L431.1,159.9 L432.9,161.2 L433.7,163.2 L435.9,164.1 L435.9,166.8 L438.5,167.4 L438.8,169.9 L440.7,170.6 L441.7,172.2 L443.6,172.9 L444.0,175.1 L446.1,175.6 L446.7,177.5 L448.2,178.6 L448.7,180.4 L450.2,181.5 L450.4,183.6 L452.5,184.1 L453.0,186.2 L455.0,186.5 L456.6,188.3 L459.0,187.6 L460.5,189.8 L462.7,189.2 L463.8,190.7 L466.4,190.7 L466.5,193.3 L468.9,193.7 L468.5,196.1 L471.0,196.9 L471.5,199.2 L472.0,196.6 L474.7,195.6 L476.1,191.7 L478.6,192.9 L480.8,193.8 L480.3,196.1 L482.0,197.3 L482.0,199.5 L483.9,200.1 L484.1,202.2 L486.0,202.1 L489.0,204.3 L492.4,204.4 L493.8,205.6 L495.8,205.7 L497.5,207.2 L497.3,205.1 L499.4,204.1 L499.0,202.0 L500.9,200.8 L500.6,198.8 L502.0,197.5 L501.9,195.5 L503.9,194.7 L504.5,192.1 L508.0,192.1 L508.1,190.0 L510.7,189.3 L509.8,187.0 L511.0,185.4 L511.0,183.2 L512.9,181.7 L512.4,179.4 L513.9,177.7 L514.0,175.4 L513.7,177.9 L515.9,179.0 L517.4,181.7 L516.9,179.3 L517.4,177.8 L518.7,179.3 L519.8,177.1 L521.4,178.4 L522.7,176.1 L523.0,173.6" fill="none" stroke="#00CD00" stroke-width="1.15" stroke-linejoin="round"/>
<path d="M417.0,196.0 L419.1,197.6 L419.2,200.4 L421.2,201.5 L420.7,203.6 L423.0,204.7 L422.5,207.3 L425.8,207.3 L427.3,209.6 L429.8,211.2 L431.8,214.0 L434.7,215.5 L436.3,218.3 L438.9,218.6 L439.1,220.7 L441.0,221.7 L440.9,223.9 L443.7,223.7 L445.8,225.4 L448.2,226.2 L449.6,228.3 L451.6,228.3 L452.9,230.3 L455.5,229.6 L457.6,231.0 L460.0,230.4 L461.0,232.3 L462.8,232.6 L465.1,233.8 L467.7,233.3 L469.9,235.0 L472.6,234.5 L474.8,235.9 L477.4,235.2 L479.2,237.0 L481.4,235.9 L483.2,237.5 L485.4,236.8 L487.2,238.1 L489.5,237.2 L491.0,239.1 L493.2,239.1 L495.1,240.3 L496.9,239.0 L499.1,240.3 L500.9,238.9 L502.8,239.9 L504.9,239.0 L506.8,239.7" fill="none" stroke="#00CD00" stroke-width="1.15" stroke-linejoin="round"/>
<path d="M455.0,190.8 L456.1,188.4 L459.3,187.9 L461.7,185.4 L464.1,187.4 L465.6,185.4 L468.0,184.6 L468.5,182.2 L471.6,181.7 L473.2,179.3 L475.3,178.3 L474.5,175.8 L476.8,174.9 L476.7,172.9 L478.6,171.8 L477.9,169.5 L480.0,167.5 L479.6,164.8 L481.2,162.5 L480.1,159.6 L482.1,158.5 L482.0,156.6 L483.9,155.4 L483.3,153.2 L484.7,151.8 L485.0,150.0" fill="none" stroke="#00CD00" stroke-width="1.15" stroke-linejoin="round"/>
<path d="M416.1,194.4 L419.4,195.0 L422.3,196.5 L424.8,197.5 L426.3,195.9 L426.2,193.6 L427.3,192.4 L429.9,192.7" fill="none" stroke="#00CD00" stroke-width="1.15" stroke-dasharray="3.9 3.4" stroke-linejoin="round"/>
<path d="M494.4,119.7 L494.7,121.9 L493.4,124.0 L493.8,126.2 L492.9,128.3 L493.5,130.6 L492.1,132.6 L492.8,134.9 L491.9,137.0 L492.2,139.2 L491.5,141.3 L491.8,143.6 L490.5,145.6 L490.9,148.2 L489.8,150.5 L490.3,152.8 L489.2,154.9 L489.9,157.1 L489.0,158.9 L489.2,160.7 L488.6,162.4 L488.6,164.5 L487.1,165.9 L486.5,168.2 L485.0,170.0" fill="none" stroke="#00CD00" stroke-width="1.15" stroke-dasharray="1.4 2.8 4.4 2.8" stroke-linejoin="round"/>
<path d="M481.4,216.7 L483.4,217.0 L485.2,218.0 L487.3,218.0 L489.0,218.9 L491.1,219.3 L492.2,221.2 L494.2,221.7 L495.2,223.7 L497.0,224.5" fill="none" stroke="#00CD00" stroke-width="1.15" stroke-dasharray="3.9 3.4" stroke-linejoin="round"/>
<path d="M452.5,209.5 L454.0,210.4 L454.7,212.1 L456.4,212.9 L456.9,214.8 L458.6,215.5 L459.5,217.0 L461.2,217.8 L462.1,219.4 L464.1,219.9 L465.1,221.9 L467.1,222.5" fill="none" stroke="#00CD00" stroke-width="1.15" stroke-dasharray="3.9 3.4" stroke-linejoin="round"/>
<path d="M428.0,204.1 L430.8,205.2 L431.7,207.3 L433.9,208.1 L434.9,210.1 L437.0,210.9 L438.0,213.0 L440.3,213.7 L441.6,215.4 L443.7,216.3 L445.0,218.0" fill="none" stroke="#00CD00" stroke-width="1.15" stroke-dasharray="3.9 3.4" stroke-linejoin="round"/>
<path d="M481.0,158.0 L484.0,160.0 L486.0,163.0 L488.0,165.0" fill="none" stroke="#00CD00" stroke-width="1.1" stroke-dasharray="1.2 2.6" stroke-opacity="0.95" stroke-linejoin="round"/>
<path d="M452.0,247.0 L460.0,250.0 L468.0,251.0 L476.0,251.0" fill="none" stroke="#00CD00" stroke-width="1.1" stroke-dasharray="1.2 2.6" stroke-opacity="0.95" stroke-linejoin="round"/>
<path d="M360.6,225.4 L363.0,228.7 L365.4,231.1 L368.7,234.4 L371.9,237.6 L375.2,240.8 L378.4,243.3 L382.5,246.5 L387.3,249.8 L392.2,251.4 L398.7,252.5 L401.6,252.8" fill="none" stroke="#0000E8" stroke-width="1.1" stroke-dasharray="1.2 2.6" stroke-opacity="0.95" stroke-linejoin="round"/>
<path d="M388.6,164.3 L389.4,166.0 L389.5,167.8 L390.6,169.3 L390.9,171.6 L392.1,173.3 L393.8,174.2 L395.2,175.6 L395.8,177.4 L396.8,179.2 L397.0,181.3 L398.6,183.0 L399.0,185.2 L400.1,187.0 L400.2,189.1 L401.3,190.9 L401.0,193.0 L401.7,195.0 L401.4,197.0 L402.4,198.9 L401.8,201.1 L402.8,202.7 L404.6,205.4 L407.2,207.4 L409.1,210.0 L410.7,211.4 L411.3,213.4 L413.0,214.8 L413.8,216.7 L415.4,218.1 L416.1,220.1 L418.7,222.1 L420.6,224.7 L423.2,225.3 L424.6,226.7 L426.5,227.1 L427.9,228.6 L429.9,228.8 L431.4,230.3 L433.4,230.5 L434.9,231.7 L436.8,232.1 L438.2,233.4 L440.1,233.8 L441.9,235.1 L444.2,235.6 L446.0,237.0" fill="none" stroke="#0000E8" stroke-width="1.6" stroke-dasharray="1.4 2.8 4.4 2.8" stroke-linejoin="round"/>
<path d="M402.5,168.2 L403.7,170.0 L403.1,172.3 L404.9,173.9 L404.2,176.3 L406.0,177.9 L405.5,180.2 L407.8,181.6 L406.9,184.2 L409.8,186.2 L409.4,188.9 L411.2,190.8 L410.2,193.0 L411.8,194.3 L411.2,196.3 L413.4,198.2 L413.0,201.2 L415.3,202.7 L414.9,205.0 L416.5,206.6 L417.0,208.8 L418.4,210.4 L420.0,213.3 L422.1,214.8 L422.6,217.4 L425.6,218.7 L427.5,221.0 L431.1,221.6 L433.0,224.7 L436.0,225.2 L438.2,227.6 L441.0,226.9 L443.7,228.0 L446.3,226.8 L448.7,228.0 L450.6,227.1 L452.2,228.2 L454.1,227.9 L455.3,229.9 L457.6,230.5 L458.9,232.4 L462.3,232.6 L464.3,234.0 L466.6,232.7 L468.6,234.0 L470.7,233.6 L472.1,235.4 L474.2,234.7 L475.4,237.0 L477.5,236.2 L478.7,237.8 L480.6,237.7" fill="none" stroke="#0000E8" stroke-width="1.15" stroke-linejoin="round"/>
<path d="M403.5,168.5 L404.8,170.6 L404.6,173.1 L406.3,174.4 L405.5,176.5 L407.1,177.8 L406.4,179.9 L408.0,181.2 L407.3,183.3 L409.8,184.9 L409.8,187.6 L411.6,189.5 L411.6,192.2 L413.5,193.1 L413.1,195.4 L415.0,196.6 L415.8,198.7 L418.9,200.0 L419.5,202.4 L422.2,202.3 L422.1,204.9 L424.3,205.8 L426.9,208.5 L429.0,206.7 L430.3,209.0 L433.3,210.2 L435.2,211.9 L438.8,212.6 L440.8,215.6 L443.8,215.8 L446.0,217.8 L448.6,216.9 L451.9,217.8 L452.9,215.4 L455.2,215.3 L457.9,212.7 L461.2,213.1 L463.2,213.3 L464.6,214.9 L466.6,214.0 L468.4,215.3 L470.4,214.8 L471.7,216.3 L473.9,215.8 L475.0,217.3 L477.3,217.6 L478.0,219.5 L480.3,220.0 L480.5,222.9 L483.1,223.8 L483.5,226.3 L485.5,227.1 L487.0,229.0 L489.2,229.4" fill="none" stroke="#0000E8" stroke-width="1.15" stroke-linejoin="round"/>
<path d="M404.0,201.0 L405.2,202.5 L405.5,204.6 L407.4,205.8 L407.6,208.3 L409.5,209.8 L409.3,212.1 L411.6,213.0 L411.3,215.4 L413.8,216.1 L413.5,218.5 L415.3,219.2 L417.5,221.9 L420.6,222.2 L422.7,224.4 L425.6,225.1 L427.9,227.1 L430.9,227.4 L433.0,229.5 L435.9,229.5 L438.2,231.3 L441.2,230.6 L442.5,232.8 L444.6,231.8 L446.0,233.6 L448.1,232.4 L449.5,234.3 L451.5,233.0 L453.8,234.6 L456.3,234.1 L458.6,235.5 L461.0,234.9 L463.6,235.3 L466.1,234.1 L468.2,235.8 L471.0,234.3 L473.1,236.6 L476.0,235.3 L477.2,237.1 L479.1,236.7 L480.6,237.7" fill="none" stroke="#0000E8" stroke-width="1.15" stroke-linejoin="round"/>
<path d="M409.1,219.3 L411.0,220.3 L412.2,222.4 L415.0,222.1 L416.0,224.5 L418.7,224.5 L419.8,227.0 L422.1,226.8 L423.2,229.2 L425.6,229.0 L427.2,230.4 L429.3,230.8 L430.8,232.2 L432.9,232.4 L434.3,234.1 L436.5,234.6 L437.9,236.3 L440.2,236.5 L441.2,238.6 L443.4,238.5 L444.5,240.1 L447.0,239.7 L447.7,242.2 L449.9,242.2 L451.2,243.8 L453.2,244.1 L454.5,245.7 L456.7,245.6 L457.5,248.1 L459.9,247.5 L462.0,249.6" fill="none" stroke="#0000E8" stroke-width="1.15" stroke-linejoin="round"/>
<path d="M409.9,142.0 L412.0,141.1 L411.5,143.0 L413.0,144.3 L412.6,146.3 L413.9,147.7 L414.0,149.5 L415.3,150.9 L415.4,152.7 L416.7,154.6 L416.4,157.0 L417.7,158.8 L417.7,160.9 L419.1,162.2 L419.1,164.1 L420.6,165.7 L420.5,167.7 L422.2,168.6 L423.1,170.3 L424.7,172.0 L425.7,174.2 L427.0,175.6 L427.3,177.7 L428.6,179.2 L430.0,182.1 L432.6,184.3 L433.9,187.3 L435.5,188.9 L435.8,191.2 L437.6,192.7 L437.5,195.1 L439.1,196.7 L439.0,198.9 L440.4,200.6 L440.5,202.9 L442.5,203.7 L443.5,205.5 L445.3,206.3 L446.0,208.2 L447.8,209.0 L448.5,210.9 L450.2,211.8 L451.3,213.5 L454.2,214.2 L455.4,215.5 L457.2,215.8 L458.3,217.4 L460.2,217.6 L461.6,219.1 L463.6,219.5 L465.0,221.0" fill="none" stroke="#0000E8" stroke-width="1.15" stroke-dasharray="3.9 3.4" stroke-linejoin="round"/>
<path d="M454.6,237.7 L457.1,237.7 L459.5,238.7 L461.9,238.3 L464.3,238.9 L466.9,238.7 L469.1,240.0 L471.7,239.3 L474.1,240.2" fill="none" stroke="#0000E8" stroke-width="1.15" stroke-dasharray="3.9 3.4" stroke-linejoin="round"/>
<path d="M460.0,234.2 L461.8,233.2 L464.0,233.5 L465.8,232.4 L467.7,232.5 L469.6,232.5 L470.8,234.0 L472.7,234.2 L473.9,235.8 L475.8,235.8 L477.0,237.3 L478.9,237.5 L480.1,238.8 L481.9,239.2 L483.4,240.1" fill="none" stroke="#0000E8" stroke-width="1.15" stroke-dasharray="3.9 3.4" stroke-linejoin="round"/>
<path d="M430.0,244.0 L440.0,246.0 L450.0,248.5 L460.0,250.0 L470.0,251.0 L480.0,251.5" fill="none" stroke="#0000E8" stroke-width="1.1" stroke-dasharray="1.2 2.6" stroke-opacity="0.95" stroke-linejoin="round"/>
<path d="M407.0,228.0 L408.7,228.7 L410.0,230.0 L412.1,229.9 L413.3,231.5 L415.1,231.6 L416.6,232.9 L418.5,232.9 L419.8,234.4 L421.8,234.3 L423.1,235.9 L425.2,235.6 L426.6,236.9 L428.4,237.1 L429.8,238.4 L431.8,238.2 L433.2,239.5 L435.1,239.5 L436.6,240.8 L438.5,240.5 L440.0,241.7 L441.7,241.7 L443.3,242.6 L445.0,243.0" fill="none" stroke="#0000E8" stroke-width="1.15" stroke-dasharray="3.9 3.4" stroke-linejoin="round"/>
<path d="M398.0,218.0 L399.5,218.8 L400.6,220.3 L402.4,220.7 L403.4,222.3 L405.2,222.7 L406.6,224.4 L408.7,224.9 L410.1,226.6 L412.1,227.3 L413.5,228.4 L415.4,228.4 L416.7,229.7 L418.5,230.0 L419.9,231.3 L421.7,231.2 L423.1,232.5 L425.0,232.3 L426.2,233.9 L428.1,233.6 L429.5,234.8 L431.4,234.7 L432.6,236.3 L434.5,236.1 L435.8,237.5 L438.2,237.1 L439.8,238.8 L442.1,238.7 L443.9,239.7 L446.1,239.5 L447.9,240.7 L450.1,240.8 L452.0,241.5" fill="none" stroke="#0000E8" stroke-width="1.15" stroke-dasharray="3.9 3.4" stroke-linejoin="round"/>
<path d="M412.0,236.0 L413.8,236.1 L415.1,237.5 L416.9,237.6 L418.3,238.6 L420.1,238.7 L421.8,240.1 L424.2,239.7 L425.9,241.2 L428.1,241.2 L429.9,242.4 L432.2,242.2 L433.9,243.7 L436.1,243.7 L437.9,244.9 L440.0,244.9 L441.9,245.9 L444.0,245.8 L445.9,246.9 L448.1,246.4 L449.9,247.7 L452.0,247.2 L454.0,248.0 L456.1,247.4 L457.9,248.8 L460.0,248.5" fill="none" stroke="#0000E8" stroke-width="1.15" stroke-dasharray="1.4 2.8 4.4 2.8" stroke-linejoin="round"/>
<path d="M440.0,236.0 L441.8,236.2 L443.2,237.3 L445.0,237.4 L446.5,238.5 L448.5,238.1 L449.9,239.4 L452.1,239.1 L453.9,240.2 L456.1,239.7 L457.9,241.0 L460.1,240.7 L461.9,241.9 L464.1,241.5 L466.0,242.4 L468.0,242.4 L470.0,243.4 L472.1,242.7 L474.0,243.7 L476.0,243.2 L478.0,244.0 L480.0,244.0" fill="none" stroke="#0000E8" stroke-width="1.15" stroke-dasharray="3.9 3.4" stroke-linejoin="round"/>
<path d="M445.0,242.0 L446.8,242.2 L448.2,243.6 L450.1,243.3 L451.6,244.3 L453.4,244.2 L455.0,245.2 L457.1,245.1 L458.9,246.3 L461.1,245.9 L463.0,246.8 L465.1,246.5 L467.0,247.4 L469.0,246.9 L471.0,247.7 L473.0,247.4 L475.0,248.4 L476.8,247.8 L478.5,249.0 L480.5,248.1 L482.2,249.1 L484.0,249.0" fill="none" stroke="#0000E8" stroke-width="1.15" stroke-dasharray="3.9 3.4" stroke-linejoin="round"/>
<path d="M358.1,98.2 L359.0,99.8 L358.7,101.7 L359.6,103.3 L359.3,105.2 L360.4,106.8 L360.3,108.6 L361.5,110.2 L361.1,112.1 L362.1,113.7 L361.8,115.6 L363.0,117.2 L362.5,119.1 L363.5,120.7 L363.2,122.6 L364.3,124.2 L364.0,126.1 L365.1,127.8 L364.6,129.8 L365.6,131.6 L365.4,133.5 L366.1,135.4 L365.7,137.3 L366.9,139.1 L366.6,141.1 L367.6,142.7 L367.8,144.5 L368.7,146.2 L368.8,148.1 L370.0,149.6 L369.7,151.5 L370.7,153.0 L370.5,154.8 L372.0,156.2 L371.4,158.2 L372.7,159.6 L372.2,161.5 L373.3,163.0 L373.3,164.8 L374.3,166.3 L374.2,168.1 L375.5,169.5 L375.4,171.3 L376.7,172.6 L376.7,174.5 L378.3,175.7 L378.6,177.5 L380.0,178.7 L380.1,180.6 L381.5,181.9 L381.3,183.9 L383.0,185.0 L382.9,187.1 L384.5,188.2 L384.8,190.0 L386.0,191.3 L386.1,193.2 L387.8,194.3 L387.6,196.4 L389.1,198.0 L389.0,200.1 L390.1,201.8 L390.3,203.8 L391.3,205.5 L391.4,207.8 L393.0,209.4 L393.3,211.8 L395.7,213.0 L396.4,215.6 L398.4,217.2 L399.5,219.5 L401.9,220.3 L403.5,222.2 L405.3,222.8 L406.7,224.2 L408.6,224.5 L410.0,226.5 L412.4,226.5 L413.7,228.3 L415.5,228.9 L416.3,230.5 L417.9,231.4 L418.5,233.2 L420.3,233.7 L421.3,235.3 L422.9,236.1 L425.5,237.8 L427.9,237.8 L429.8,239.0" fill="none" stroke="#000000" stroke-width="1.0" stroke-dasharray="3.9 3.4" stroke-linejoin="round"/>
<path d="M389.5,187.0 L390.6,188.8 L389.7,190.8 L391.0,192.2 L390.4,194.7 L392.4,195.9 L392.4,198.0 L393.9,199.3 L394.2,201.1 L395.9,202.2 L395.3,204.4 L397.1,205.5 L396.5,207.6 L398.2,209.1 L397.7,211.4 L399.9,211.9 L400.1,214.1 L402.3,215.2 L404.7,214.6 L406.7,211.3 L407.3,214.2 L410.0,214.9 L411.4,218.0 L414.5,218.3 L415.7,221.8 L418.6,222.3 L420.5,223.7 L423.1,224.3 L425.2,226.0 L427.2,226.2 L428.4,228.0 L430.8,227.4 L431.9,229.4 L434.5,229.5 L435.8,231.8 L438.3,232.2 L440.0,234.0" fill="none" stroke="#000000" stroke-width="1.0" stroke-linejoin="round"/>
<path d="M406.4,180.0 L407.4,182.4 L408.0,185.3 L410.0,187.6 L409.7,189.5 L411.1,190.9 L410.6,193.1 L411.9,194.8 L411.7,196.9 L413.5,198.4 L412.6,200.8 L414.0,202.2 L414.5,204.3 L416.5,205.8 L415.8,208.1 L417.6,209.5 L416.7,211.6 L418.0,213.1 L417.4,215.4 L419.1,217.0 L419.1,219.2 L421.1,219.9 L422.5,222.3 L425.0,221.8 L426.5,223.8 L428.2,224.7 L429.1,226.4 L432.1,227.9 L434.3,230.4 L437.4,231.7 L438.7,234.2 L440.5,235.5 L441.3,237.8 L443.4,238.2 L444.7,239.9 L446.8,240.3 L447.8,242.4 L450.1,241.8 L451.2,243.7 L453.2,243.9 L454.2,245.8 L456.4,245.4 L457.4,247.5 L460.2,246.8 L461.5,249.3" fill="none" stroke="#000000" stroke-width="1.0" stroke-linejoin="round"/>
<path d="M376.0,216.5 L378.6,214.7 L381.0,217.6 L383.4,215.3 L386.2,217.0 L389.2,217.9 L391.1,220.0 L392.8,220.7 L393.6,222.5 L395.7,222.5 L396.7,224.2 L398.9,224.7 L399.7,227.0 L401.9,227.6 L403.5,229.2 L405.8,229.7 L407.1,231.7 L409.2,232.4 L410.8,234.2 L412.9,233.9 L414.5,235.2 L416.5,235.3 L418.1,236.4 L420.2,236.3 L421.7,237.7 L423.7,237.7 L425.4,238.6 L427.3,238.7 L429.1,239.4 L431.0,239.6 L432.7,240.6 L434.6,240.4 L436.3,241.4 L438.4,241.2 L440.1,242.3 L442.2,242.1 L444.0,243.0" fill="none" stroke="#000000" stroke-width="1.0" stroke-dasharray="3.9 3.4" stroke-linejoin="round"/>
<path d="M384.9,223.0 L386.0,224.4 L386.2,226.3 L387.4,229.1 L389.6,230.5 L392.5,232.3 L393.7,234.1 L395.7,234.9 L396.9,236.4 L398.9,236.5 L399.7,238.3 L401.6,238.7 L402.6,240.2 L404.3,240.7 L405.4,242.2 L407.3,242.5 L409.0,243.5 L411.0,243.6 L412.6,244.8 L414.7,244.4 L416.2,246.2 L418.3,245.6 L419.9,246.8 L421.9,246.7 L423.5,248.0 L425.5,247.7 L427.1,248.9 L429.1,248.6 L430.9,249.6 L432.8,249.1 L434.5,250.3 L436.4,249.5 L438.2,250.7 L440.0,250.0 L441.8,250.6 L443.7,249.9 L445.5,250.9 L447.3,250.0 L449.1,250.7 L450.9,250.4 L452.7,250.5" fill="none" stroke="#000000" stroke-width="1.0" stroke-dasharray="3.9 3.4" stroke-linejoin="round"/>
<path d="M391.4,236.1 L393.3,236.7 L395.0,238.0 L397.1,238.2 L398.7,239.9 L401.0,239.7 L402.5,241.5 L404.5,241.3 L405.8,242.5 L407.7,242.5 L409.0,244.0 L411.0,244.0 L412.4,245.2 L414.3,245.3 L415.7,246.6 L417.6,246.5 L419.8,247.7 L422.3,248.0 L424.5,249.2 L427.1,249.3 L428.6,250.3 L430.4,250.1 L432.0,250.8 L433.9,250.4 L435.9,251.0 L437.8,250.3 L439.8,251.1 L441.7,250.2 L443.8,250.9 L445.9,250.1 L448.0,250.3" fill="none" stroke="#000000" stroke-width="1.0" stroke-dasharray="3.9 3.4" stroke-linejoin="round"/>
<path d="M370.3,254.2 L371.3,254.2" fill="none" stroke="#000000" stroke-width="1.1" stroke-dasharray="1.2 2.6" stroke-opacity="0.95" stroke-linejoin="round"/>
<rect x="348.2" y="17.5" width="261.3" height="250" fill="none" stroke="#111" stroke-width="1.1"/>
<line x1="342" y1="258.4" x2="348.2" y2="258.4" stroke="#111" stroke-width="1.1"/>
<text x="340" y="258.4" transform="rotate(-90 340 258.4)" text-anchor="middle"  font-size="10.4" fill="#111">0</text>
<line x1="342" y1="200.55" x2="348.2" y2="200.55" stroke="#111" stroke-width="1.1"/>
<text x="340" y="200.55" transform="rotate(-90 340 200.55)" text-anchor="middle"  font-size="10.4" fill="#111">1</text>
<line x1="342" y1="142.7" x2="348.2" y2="142.7" stroke="#111" stroke-width="1.1"/>
<text x="340" y="142.7" transform="rotate(-90 340 142.7)" text-anchor="middle"  font-size="10.4" fill="#111">2</text>
<line x1="342" y1="84.85" x2="348.2" y2="84.85" stroke="#111" stroke-width="1.1"/>
<text x="340" y="84.85" transform="rotate(-90 340 84.85)" text-anchor="middle"  font-size="10.4" fill="#111">3</text>
<line x1="342" y1="27" x2="348.2" y2="27" stroke="#111" stroke-width="1.1"/>
<text x="340" y="27" transform="rotate(-90 340 27)" text-anchor="middle"  font-size="10.4" fill="#111">4</text>
<line x1="358.3" y1="267.5" x2="358.3" y2="273.5" stroke="#111" stroke-width="1.1"/>
<text x="358.3" y="287.1" text-anchor="middle"  font-size="10.4" fill="#111">800</text>
<line x1="412.6" y1="267.5" x2="412.6" y2="273.5" stroke="#111" stroke-width="1.1"/>
<text x="412.6" y="287.1" text-anchor="middle"  font-size="10.4" fill="#111">1000</text>
<line x1="467.0" y1="267.5" x2="467.0" y2="273.5" stroke="#111" stroke-width="1.1"/>
<text x="467.0" y="287.1" text-anchor="middle"  font-size="10.4" fill="#111">1200</text>
<line x1="521.4" y1="267.5" x2="521.4" y2="273.5" stroke="#111" stroke-width="1.1"/>
<text x="521.4" y="287.1" text-anchor="middle"  font-size="10.4" fill="#111">1400</text>
<line x1="575.8" y1="267.5" x2="575.8" y2="273.5" stroke="#111" stroke-width="1.1"/>
<text x="575.8" y="287.1" text-anchor="middle"  font-size="10.4" fill="#111">1600</text>
<text x="479.8" y="305.7" text-anchor="middle"  font-size="10.1" fill="#111">Time (Adjusted)</text>
<text x="324.5" y="142.5" transform="rotate(-90 324.5 142.5)" text-anchor="middle"  font-size="10.1" fill="#111">C(t)</text>
<text x="479.3" y="9.8" text-anchor="middle"  font-size="12.5" font-weight="bold" fill="#111">Capacity</text>
<rect x="516.6" y="17.5" width="92.9" height="66.5" fill="#fff" stroke="#111" stroke-width="1.1"/>
<line x1="524.1" y1="28.6" x2="542.3" y2="28.6" stroke="#00FFFF" stroke-width="1"/>
<text x="550.3" y="31.8"  font-size="8.7" fill="#111">Word</text>
<line x1="524.1" y1="39.7" x2="542.3" y2="39.7" stroke="#FF0000" stroke-width="1"/>
<text x="550.3" y="42.9"  font-size="8.7" fill="#111">Pseudoword</text>
<line x1="524.1" y1="50.8" x2="542.3" y2="50.8" stroke="#00CD00" stroke-width="1"/>
<text x="550.3" y="54.0"  font-size="8.7" fill="#111">Random</text>
<line x1="524.1" y1="61.9" x2="542.3" y2="61.9" stroke="#0000FF" stroke-width="1"/>
<text x="550.3" y="65.1"  font-size="8.7" fill="#111">Upside–Down</text>
<line x1="524.1" y1="73.0" x2="542.3" y2="73.0" stroke="#000000" stroke-width="1"/>
<text x="550.3" y="76.2"  font-size="8.7" fill="#111">Katakana</text>
</svg>
</body></html>
